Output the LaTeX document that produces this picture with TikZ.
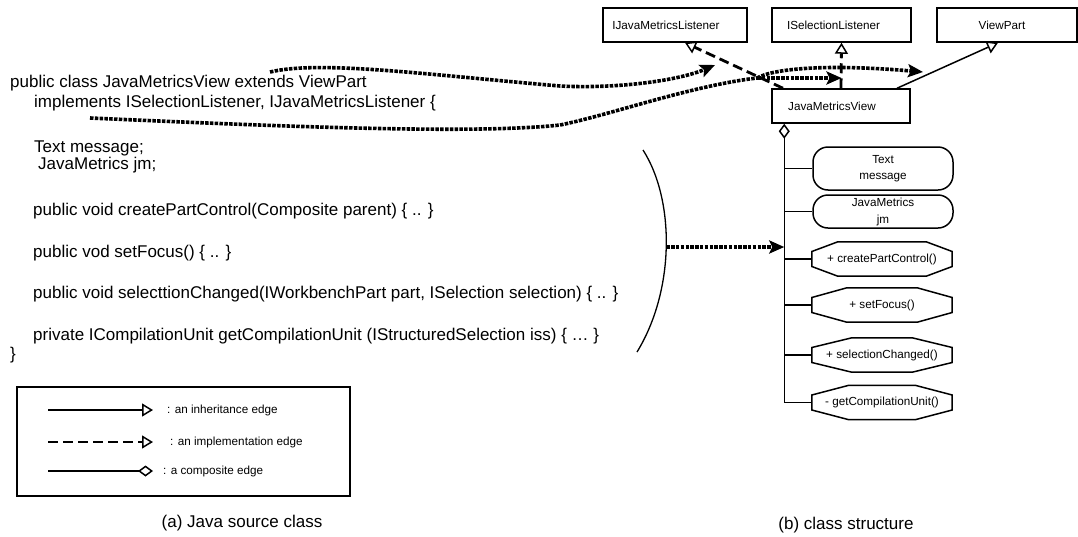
\documentclass[tikz,border=0pt]{standalone}
\usepackage{fontspec}
\setmainfont{Liberation Sans}
\usetikzlibrary{arrows.meta,calc}

% octagonal member box: name, x, y, text, chamfer width
\newcommand\octmember[5]{%
  \node[octatext] (#1) at (#2,#3) {#4};
  \draw[boxline]
    ($(#1.north west)+(#5,0)$) -- ($(#1.north east)+(-#5,0)$)
    -- ($(#1.east)+(0,-7.5)$) -- ($(#1.east)+(0,7.5)$)
    -- ($(#1.south east)+(-#5,0)$) -- ($(#1.south west)+(#5,0)$)
    -- ($(#1.west)+(0,7.5)$) -- ($(#1.west)+(0,-7.5)$) -- cycle;
}

\begin{document}
\begin{tikzpicture}[x=1pt,y=-1pt,
  codetext/.style={anchor=base west,inner sep=0pt,font=\fontsize{17}{20}\selectfont},
  caption/.style={inner sep=0pt,font=\fontsize{17}{20}\selectfont},
  small/.style={font=\fontsize{11.7}{16}\selectfont},
  boxline/.style={draw,line width=1.5pt},
  classbox/.style={boxline,minimum height=34pt,inner sep=0pt},
  lbl/.style={small,inner sep=0pt},
  member/.style={boxline,small,align=center,minimum width=140pt,inner sep=0pt,rounded corners=15pt},
  octatext/.style={small,minimum width=140pt,minimum height=34pt,inner sep=0pt},
  legtext/.style={small,anchor=west,inner sep=0pt},
  flowline/.style={line width=3.6pt,dash pattern=on 3.5pt off 1.3pt},
  flow/.style={flowline,-{Stealth[length=15pt,width=13pt,inset=3pt]}},
  impl/.style={line width=2.8pt,dash pattern=on 10pt off 5pt,
    -{Triangle[open,length=11pt,width=13pt,line width=1.5pt]}},
  inh/.style={line width=1.5pt,-{Triangle[open,length=11pt,width=13pt,line width=1.5pt]}},
  comp/.style={line width=1.5pt,-{Diamond[open,length=15pt,width=11pt,line width=1.5pt]}},
  bar/.style={line width=1.5pt}
]
\useasboundingbox (0,0) rectangle (1078,536);

% ---------- Java source ----------
\node[codetext] (c1) at (10,87) {public class JavaMetricsView extends ViewPart};
\node[codetext] (c2) at (34,107) {implements ISelectionListener, IJavaMetricsListener \{};
\node[codetext] (c3) at (34,152) {Text message;};
\node[codetext] (c4) at (38,169) {JavaMetrics jm;};
\node[codetext] (c5) at (33,215) {public void createPartControl(Composite parent) \{ .. \}};
\node[codetext] (c6) at (33,257) {public vod setFocus() \{ .. \}};
\node[codetext] (c7) at (33,298) {public void selecttionChanged(IWorkbenchPart part, ISelection selection) \{ .. \}};
\node[codetext] (c8) at (33,340) {private ICompilationUnit getCompilationUnit (IStructuredSelection iss) \{ … \}};
\node[codetext] (c9) at (10,359) {\}};

% ---------- class structure ----------
\node[classbox,minimum width=144pt,label={[lbl,xshift=-9pt]center:IJavaMetricsListener}] (ij) at (675,25) {};
\node[classbox,minimum width=139pt,label={[lbl,xshift=-8pt]center:ISelectionListener}] (isel) at (841.5,25) {};
\node[classbox,minimum width=140pt,label={[lbl,xshift=-5pt]center:ViewPart}] (vp) at (1007,25) {};
\node[classbox,minimum width=138pt,label={[lbl,xshift=-9pt]center:JavaMetricsView}] (jmv) at (841,106) {};

\node[member,minimum height=43pt] (m1) at (883,168.5) {Text\\message};
\node[member,minimum height=33pt] (m2) at (883,211.5) {JavaMetrics\\[1pt]jm};
\octmember{m3}{882}{259}{+ createPartControl()}{26}
\octmember{m4}{882}{305}{+ setFocus()}{35}
\octmember{m5}{882}{355}{+ selectionChanged()}{40}
\octmember{m6}{882}{402.5}{- getCompilationUnit()}{37}

% generalisation / realisation edges
\draw[impl] ([xshift=-58pt]jmv.north) -- ([xshift=10pt]ij.south);
\draw[impl] (jmv.north) -- (isel.south);
\draw[inh] ([xshift=56pt]jmv.north) -- ([xshift=-9pt]vp.south);

% composition bus
\coordinate (bus) at ($(jmv.south west)+(13,0)$);
\draw[comp] (m6.west) -- (m6.west -| bus) -- (bus);
\foreach \m in {m1,m2,m3,m4,m5}
  \draw[bar] (\m.west -| bus) -- (\m.west);

% member bracket and mapping arrow
\coordinate (arcTop) at (643,150);
\coordinate (arcBot) at (637,352);
\coordinate (arcMid) at (666.3,247);
\draw[line width=1.3pt] (arcTop) .. controls (675,200) and (675,290) .. (arcBot);
\draw[flow] (arcMid) -- (arcMid -| bus);

% mapping curves from the class header
\coordinate (srcA) at (270,72);
\coordinate (tipA) at (715,65);
\coordinate (srcB) at (90,118);
\coordinate (fork) at (757,78);
\coordinate (tipB) at (923,72);
\draw[flow] (srcA) .. controls (320,60) and (430,75) .. (560,86)
  .. controls (620,89) and (680,80) .. (tipA);
\draw[flowline] (srcB) .. controls (250,125) and (470,135) .. (560,125)
  .. controls (610,115) and (690,86) .. (fork);
\draw[flow] (fork) -- (fork -| isel.south);
\draw[flow] (fork) .. controls (775,68) and (830,64) .. (tipB);

% ---------- legend ----------
\node[boxline,minimum width=333pt,minimum height=109pt,inner sep=0pt] (legend) at (183.5,441.5) {};
\coordinate (l1a) at (48,410);  \coordinate (l1b) at (153,410);
\coordinate (l2a) at (48,442);  \coordinate (l2b) at (153,442);
\coordinate (l3a) at (48,471);  \coordinate (l3b) at (153,471);
\draw[inh] (l1a) -- (l1b);
\draw[impl] (l2a) -- (l2b);
\draw[comp] (l3a) -- (l3b);
\node[legtext] (t1) at (167,410) {: an inheritance edge};
\node[legtext] (t2) at (170,442) {: an implementation edge};
\node[legtext] (t3) at (163,471) {: a composite edge};

% ---------- captions ----------
\node[caption] (capa) at (242,523) {(a) Java source class};
\node[caption] (capb) at (846,525) {(b) class structure};
\end{tikzpicture}
\end{document}
